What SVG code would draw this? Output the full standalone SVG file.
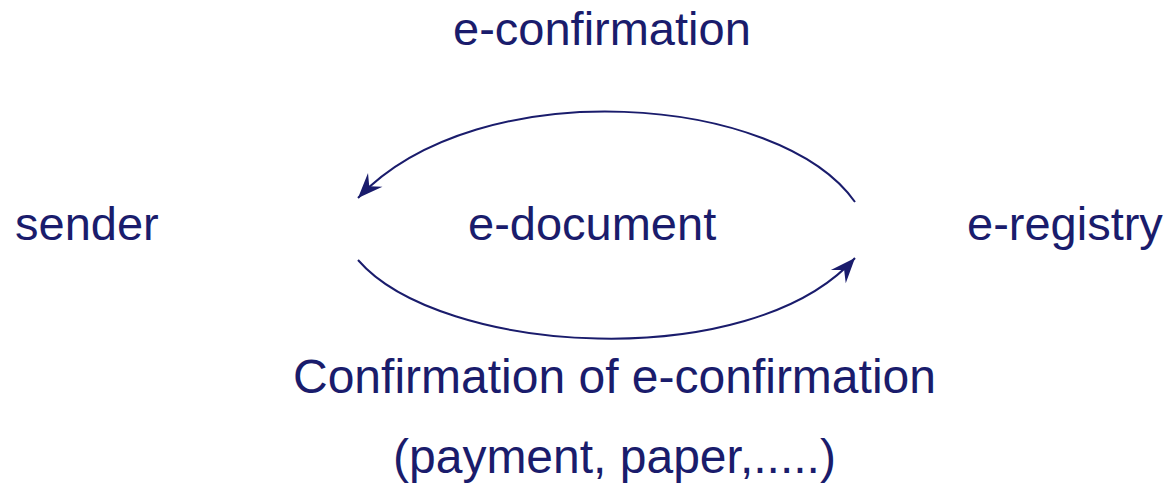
<svg xmlns="http://www.w3.org/2000/svg" width="1169" height="489" viewBox="0 0 1169 489">
  <style>
    .t { font-family: "Liberation Sans", Arial, sans-serif; font-size: 47px; fill: #1a1c6c; }
    .b { font-size: 48px; }
    .c { fill: none; stroke: #1a1c6c; stroke-width: 2; }
  </style>
  <defs>
    <marker id="ah" markerUnits="userSpaceOnUse" markerWidth="30" markerHeight="30" viewBox="-22 -11 24 22" refX="0" refY="0" orient="auto">
      <path d="M0,0 L-20,-8 L-13,0 L-20,8 Z" fill="#1a1c6c"/>
    </marker>
  </defs>
  <rect width="1169" height="489" fill="#ffffff"/>
  <g id="connectors">
    <path class="c" d="M855,202 C780,95 480,70 358,198" marker-end="url(#ah)"/>
    <path class="c" d="M358,260 C440,355 750,375 855,258" marker-end="url(#ah)"/>
  </g>
  <g id="sender"><text class="t" x="15" y="240">sender</text></g>
  <g id="e-document"><text class="t" x="468" y="240">e-document</text></g>
  <g id="e-registry"><text class="t" x="967" y="240">e-registry</text></g>
  <g id="label-top"><text class="t" x="453" y="45">e-confirmation</text></g>
  <g id="label-bottom">
    <text class="t b" x="293" y="393">Confirmation of e-confirmation</text>
    <text class="t b" x="393" y="473">(payment, paper,.....)</text>
  </g>
</svg>
